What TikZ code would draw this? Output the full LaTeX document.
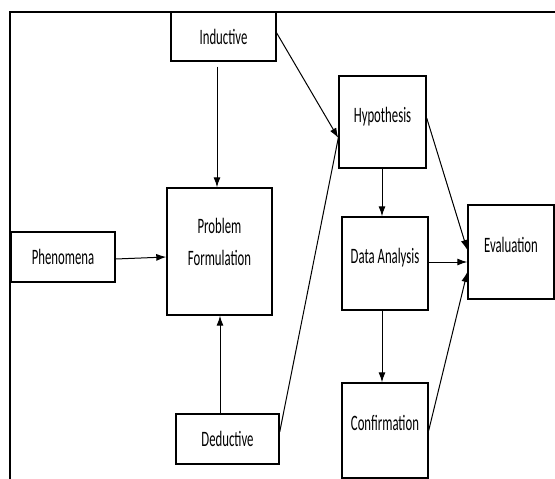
\documentclass[tikz,border=0pt]{standalone}
\usepackage{fontspec}
\setmainfont{Carlito}[FakeStretch=0.58]
\usetikzlibrary{arrows.meta}
\begin{document}
\begin{tikzpicture}[x=1pt,y=-1pt,
  box/.style={draw, line width=1.4pt, font=\fontsize{22}{32}\selectfont, align=center, inner sep=0pt},
  tallbox/.style={box, text depth=15pt},
  arr/.style={-{Latex[length=10pt,width=7pt]}, line width=1pt}]
\useasboundingbox (0,0) rectangle (555,479);

% Frame round the diagram
\draw[line width=1.6pt] (555,12) -- (10,12) -- (10,479);

% Boxes
\node[box, minimum width=105pt, minimum height=49pt] (induct) at (223.5,36.5) {Inductive};
\node[box, minimum width=104pt, minimum height=50pt] (phen) at (63,257) {Phenomena};
\node[tallbox, text depth=20pt, minimum width=105pt, minimum height=127pt] (problem) at (219.5,251.5) {Problem\\Formulation};
\node[box, minimum width=103pt, minimum height=50pt] (deduct) at (227.5,439) {Deductive};
\node[tallbox, minimum width=87pt, minimum height=92pt] (hypo) at (382.5,122) {Hypothesis};
\node[tallbox, minimum width=86pt, minimum height=93pt] (data) at (385,263.5) {Data Analysis};
\node[tallbox, minimum width=86pt, minimum height=95pt] (confirm) at (385,430.5) {Confirmation};
\node[tallbox, minimum width=86pt, minimum height=94pt] (eval) at (511,252) {Evaluation};

% Connectors
\coordinate (hypoin) at ([yshift=-16pt]hypo.west);
\draw[arr] ([xshift=-6.5pt,yshift=-5pt]induct.south) -- ([xshift=-2.5pt]problem.north);
\draw[arr] ([xshift=-7.5pt]deduct.north) -- ([xshift=0.5pt]problem.south);
\draw[arr] ([yshift=-2pt]phen.east) -- ([yshift=-5.5pt]problem.west);
\draw[arr] ([yshift=3.5pt]induct.east) -- (hypoin);
\draw[line width=1pt] ([yshift=7pt]deduct.east) -- (hypoin);
\draw[arr] ([xshift=-0.5pt]hypo.south) -- ([xshift=-3pt]data.north);
\draw[arr] ([xshift=-3pt]data.south) -- ([xshift=-3pt]confirm.north);
\draw[arr] ([yshift=4pt]hypo.east) -- ([yshift=2pt]eval.west);
\draw[arr] ([yshift=1.5pt]data.east) -- ([yshift=-10pt]eval.west);
\draw[arr] (confirm.east) -- ([yshift=-20pt]eval.west);
\end{tikzpicture}
\end{document}
